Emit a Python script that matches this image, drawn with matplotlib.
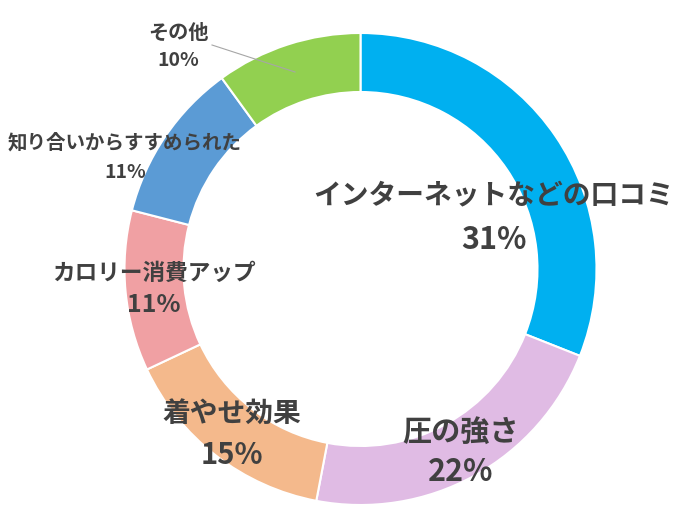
import matplotlib
matplotlib.use("Agg")
import matplotlib.pyplot as plt

plt.rcParams['font.family'] = ['Noto Sans CJK JP', 'DejaVu Sans']

categories = ["インターネットなどの口コミ", "圧の強さ", "着やせ効果", "カロリー消費アップ", "知り合いからすすめられた", "その他"]
values = [31, 22, 15, 11, 11, 10]
colors = ["#00B0F0", "#E0BBE4", "#F4B98C", "#F0A0A3", "#5B9BD5", "#92D050"]

W, H = 677, 512
fig = plt.figure(figsize=(W / 100, H / 100), dpi=100)
ax = fig.add_axes([0, 0, 1, 1])

cx, cy, R = 360.5, H - 269, 236
ax.pie(values, colors=colors, startangle=90, counterclock=False,
       center=(cx, cy), radius=R,
       wedgeprops=dict(width=0.25 * R, edgecolor='white', linewidth=1.5),
       frame=True)
ax.set_xlim(0, W)
ax.set_ylim(0, H)
ax.set_aspect('equal')
ax.axis('off')

# label positions (pixel coords, y from top): (x, y_name, y_pct, name size, pct size)
label_pos = [
    (494, 195, 240, 20, 22),
    (461, 432, 472, 21, 22),
    (232, 415, 455, 20, 21),
    (154, 273, 305, 16.3, 18),
    (125, 143, 172, 14, 14),
    (178, 32, 60, 14.5, 14),
]
txt = "#404040"
for cat, v, (x, yn, yp, fs, fp) in zip(categories, values, label_pos):
    ax.text(x, H - yn, cat, ha='center', va='center', fontsize=fs,
            fontweight='bold', color=txt)
    ax.text(x, H - yp, f"{v}%", ha='center', va='center', fontsize=fp,
            fontweight='bold', color=txt)

# leader line for その他
ax.plot([212, 295], [H - 45, H - 72], color='#A6A6A6', lw=0.8)

fig.savefig("out.png", dpi=100)
